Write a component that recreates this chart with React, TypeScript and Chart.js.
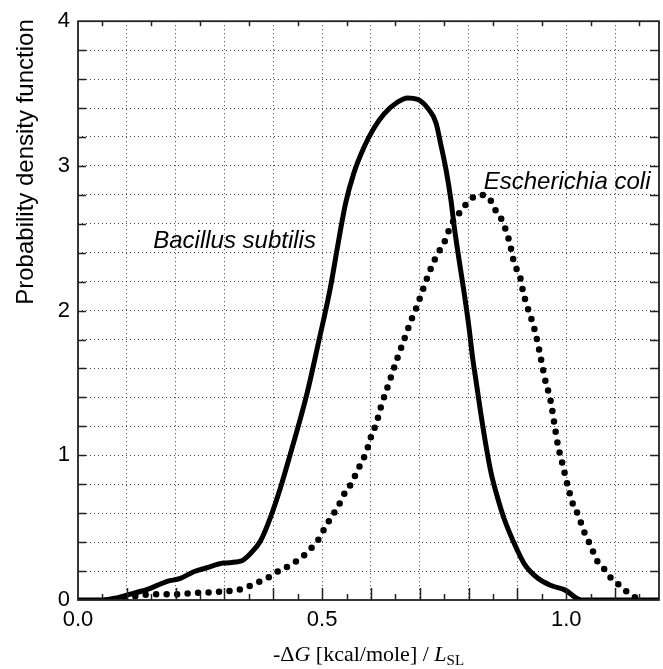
import React, { useEffect, useRef } from "react";
import { Chart, registerables } from "chart.js";

Chart.register(...registerables);

// ---- data ----
const bacillusX = [0, 0.05, 0.08, 0.1, 0.133, 0.148, 0.18, 0.21, 0.237, 0.264, 0.298, 0.333, 0.353, 0.374, 0.394, 0.415, 0.435, 0.456, 0.47, 0.49, 0.517, 0.531, 0.548, 0.565, 0.586, 0.606, 0.627, 0.654, 0.675, 0.695, 0.716, 0.733, 0.743, 0.754, 0.764, 0.771, 0.781, 0.791, 0.801, 0.808, 0.815, 0.825, 0.836, 0.846, 0.86, 0.873, 0.891, 0.914, 0.942, 0.969, 0.997, 1.031, 1.19];
const bacillusY = [0, 0, 0.015, 0.034, 0.064, 0.08, 0.126, 0.15, 0.195, 0.223, 0.255, 0.268, 0.32, 0.41, 0.57, 0.78, 1.01, 1.26, 1.44, 1.74, 2.16, 2.43, 2.74, 2.95, 3.13, 3.26, 3.36, 3.44, 3.47, 3.46, 3.4, 3.3, 3.15, 2.97, 2.76, 2.57, 2.34, 2.12, 1.88, 1.68, 1.52, 1.29, 1.06, 0.88, 0.7, 0.56, 0.41, 0.25, 0.15, 0.1, 0.07, 0, 0];

const coliX = [0.075, 0.086, 0.107, 0.127, 0.151, 0.172, 0.192, 0.213, 0.237, 0.257, 0.278, 0.298, 0.319, 0.34, 0.36, 0.38, 0.398, 0.415, 0.435, 0.452, 0.47, 0.483, 0.497, 0.507, 0.517, 0.528, 0.538, 0.548, 0.559, 0.569, 0.579, 0.589, 0.596, 0.603, 0.61, 0.62, 0.637, 0.654, 0.668, 0.682, 0.692, 0.706, 0.719, 0.736, 0.75, 0.764, 0.778, 0.791, 0.808, 0.824, 0.842, 0.852, 0.866, 0.877, 0.884, 0.894, 0.905, 0.911, 0.918, 0.928, 0.935, 0.942, 0.948, 0.959, 0.966, 0.971, 0.976, 0.983, 0.993, 1.003, 1.014, 1.024, 1.038, 1.048, 1.065, 1.079, 1.092, 1.106, 1.123, 1.14, 1.15];
const coliY = [0, 0.005, 0.02, 0.03, 0.04, 0.04, 0.04, 0.04, 0.05, 0.05, 0.055, 0.06, 0.064, 0.08, 0.11, 0.14, 0.17, 0.21, 0.24, 0.28, 0.33, 0.38, 0.44, 0.51, 0.56, 0.62, 0.68, 0.75, 0.8, 0.87, 0.94, 1.01, 1.08, 1.16, 1.21, 1.33, 1.5, 1.67, 1.8, 1.93, 2.01, 2.14, 2.26, 2.39, 2.47, 2.59, 2.66, 2.72, 2.78, 2.8, 2.78, 2.71, 2.64, 2.55, 2.47, 2.32, 2.24, 2.14, 2.05, 1.95, 1.87, 1.77, 1.67, 1.49, 1.41, 1.32, 1.21, 1.07, 0.93, 0.79, 0.66, 0.59, 0.46, 0.39, 0.26, 0.21, 0.15, 0.11, 0.06, 0.02, 0];

const seriesNames = ["Bacillus subtilis", "Escherichia coli"];

const xLabelValues = [0, 0.5, 1.0];
const xTickLabels = ["0.0", "0.5", "1.0"];
const yLabelValues = [0, 1, 2, 3, 4];
const yTickLabels = ["0", "1", "2", "3", "4"];

const X_MIN = 0;
const X_MAX = 1.19;
const X_MINOR = 0.05;
const X_LAST_TICK = 1.15;
const Y_MIN = 0;
const Y_MAX = 4;
const Y_STEP = 0.2;

const yAxisTitle = "Probability density function";
// x title pieces: "-ΔG [kcal/mole] / L_SL"
const xTitleParts = [
  { text: "-Δ", style: "normal" },
  { text: "G", style: "italic" },
  { text: " [kcal/mole] / ", style: "normal" },
  { text: "L", style: "italic" },
  { text: "SL", style: "sub" },
];

// curve labels anchored in data space (left / baseline)
const curveLabels = [
  { text: "Bacillus subtilis", x: 0.154, y: 2.436 },
  { text: "Escherichia coli", x: 0.831, y: 2.837 },
];

const SANS = "'Liberation Sans', Arial, Helvetica, sans-serif";
const SERIF = "'Liberation Serif', 'Times New Roman', serif";

const near = (a: number, b: number) => Math.abs(a - b) < 1e-6;
const isMultiple = (v: number, step: number) => near(v / step, Math.round(v / step));

const decorPlugin = {
  id: "decor",
  afterDatasetsDraw(chart: any) {
    const { ctx, chartArea: a, scales } = chart;
    const xs = scales.x;
    const ys = scales.y;
    ctx.save();
    ctx.strokeStyle = "#222";
    ctx.lineWidth = 1.5;
    ctx.lineCap = "butt";
    const nX = Math.round(X_LAST_TICK / X_MINOR);
    for (let i = 1; i <= nX; i++) {
      const v = i * X_MINOR;
      const px = Math.round(xs.getPixelForValue(v)) + 0.5;
      const major = i % 2 === 0;
      ctx.beginPath();
      ctx.moveTo(px, a.bottom);
      ctx.lineTo(px, a.bottom - (major ? 12 : 6));
      ctx.stroke();
      if (!major) {
        ctx.beginPath();
        ctx.moveTo(px, a.top);
        ctx.lineTo(px, a.top + 5);
        ctx.stroke();
      }
    }
    const nY = Math.round((Y_MAX - Y_MIN) / Y_STEP);
    for (let i = 1; i < nY; i++) {
      const v = Y_MIN + i * Y_STEP;
      const py = Math.round(ys.getPixelForValue(v)) + 0.5;
      ctx.beginPath();
      ctx.moveTo(a.left, py);
      ctx.lineTo(a.left + 8, py);
      ctx.moveTo(a.right, py);
      ctx.lineTo(a.right - 9, py);
      ctx.stroke();
    }
    ctx.lineWidth = 1.8;
    ctx.strokeRect(a.left, a.top, a.right - a.left, a.bottom - a.top);
    ctx.restore();
  },
  afterDraw(chart: any) {
    const { ctx, chartArea: a, scales } = chart;
    ctx.save();
    ctx.fillStyle = "#000";
    ctx.font = `italic 24px ${SANS}`;
    ctx.textAlign = "left";
    ctx.textBaseline = "alphabetic";
    for (const l of curveLabels) {
      ctx.fillText(l.text, scales.x.getPixelForValue(l.x), scales.y.getPixelForValue(l.y));
    }
    ctx.save();
    ctx.translate(33, 162);
    ctx.rotate(-Math.PI / 2);
    ctx.font = `24px ${SANS}`;
    ctx.textAlign = "center";
    ctx.fillText(yAxisTitle, 0, 0);
    ctx.restore();
    const fontFor = (s: string) =>
      s === "italic" ? `italic 22px ${SERIF}` : s === "sub" ? `15px ${SERIF}` : `22px ${SERIF}`;
    let total = 0;
    for (const p of xTitleParts) {
      ctx.font = fontFor(p.style);
      total += ctx.measureText(p.text).width;
    }
    let x = (a.left + a.right) / 2 - total / 2;
    const base = 661;
    ctx.textAlign = "left";
    for (const p of xTitleParts) {
      ctx.font = fontFor(p.style);
      ctx.fillText(p.text, x, p.style === "sub" ? base + 4 : base);
      x += ctx.measureText(p.text).width;
    }
    ctx.restore();
  },
};

export default function App() {
  const ref = useRef<HTMLCanvasElement | null>(null);

  useEffect(() => {
    if (!ref.current) return;
    const chart = new Chart(ref.current, {
      type: "line",
      data: {
        datasets: [
          {
            label: seriesNames[0],
            data: bacillusX.map((x, i) => ({ x, y: bacillusY[i] })),
            borderColor: "#000",
            borderWidth: 5,
            borderJoinStyle: "round",
            borderCapStyle: "round",
            pointRadius: 0,
            cubicInterpolationMode: "monotone",
            fill: false,
            clip: 0,
          },
          {
            label: seriesNames[1],
            data: coliX.map((x, i) => ({ x, y: coliY[i] })),
            borderColor: "#000",
            borderWidth: 6.5,
            borderDash: [0, 10.5],
            borderCapStyle: "round",
            borderJoinStyle: "round",
            pointRadius: 0,
            cubicInterpolationMode: "monotone",
            fill: false,
            clip: 0,
          },
        ],
      },
      options: {
        responsive: false,
        animation: false,
        devicePixelRatio: 1,
        layout: { padding: { top: 19, right: 4, left: 0, bottom: 0 } },
        plugins: { legend: { display: false }, tooltip: { enabled: false } },
        scales: {
          x: {
            type: "linear",
            min: X_MIN,
            max: X_MAX,
            afterBuildTicks: (scale: any) => {
              const n = Math.round(X_LAST_TICK / X_MINOR);
              const t = [];
              for (let i = 0; i <= n; i++) t.push({ value: Math.round(i * X_MINOR * 100) / 100 });
              scale.ticks = t;
            },
            afterFit: (scale: any) => {
              scale.height = 69;
            },
            ticks: {
              autoSkip: false,
              maxRotation: 0,
              minRotation: 0,
              padding: 7,
              color: "#000",
              font: { family: SANS, size: 22 },
              callback: (v: any) => {
                const idx = xLabelValues.findIndex((lv) => near(lv, Number(v)));
                return idx >= 0 ? xTickLabels[idx] : "";
              },
            },
            grid: {
              drawTicks: false,
              lineWidth: 1,
              color: (c: any) => {
                const v = c.tick ? c.tick.value : 0;
                return v > 0.01 && isMultiple(v, 0.1) ? "rgba(0,0,0,0.75)" : "rgba(0,0,0,0)";
              },
            },
            border: { display: false, dash: [1, 3] },
          },
          y: {
            type: "linear",
            min: Y_MIN,
            max: Y_MAX,
            afterBuildTicks: (scale: any) => {
              const n = Math.round((Y_MAX - Y_MIN) / Y_STEP);
              const t = [];
              for (let i = 0; i <= n; i++) t.push({ value: Math.round((Y_MIN + i * Y_STEP) * 10) / 10 });
              scale.ticks = t;
            },
            afterFit: (scale: any) => {
              scale.width = 78;
            },
            ticks: {
              autoSkip: false,
              padding: 8,
              color: "#000",
              font: { family: SANS, size: 22 },
              callback: (v: any) => {
                const idx = yLabelValues.findIndex((lv) => near(lv, Number(v)));
                return idx >= 0 ? yTickLabels[idx] : "";
              },
            },
            grid: {
              drawTicks: false,
              lineWidth: 1,
              color: (c: any) => {
                const v = c.tick ? c.tick.value : 0;
                return v > 0.01 && v < Y_MAX - 0.01 ? "rgba(0,0,0,0.75)" : "rgba(0,0,0,0)";
              },
            },
            border: { display: false, dash: [1, 3] },
          },
        },
      },
      plugins: [decorPlugin],
    } as any);
    return () => chart.destroy();
  }, []);

  return (
    <div style={{ position: "fixed", left: 0, top: 0, width: 663, height: 669, background: "#fff" }}>
      <canvas ref={ref} width={663} height={669} style={{ display: "block" }} />
    </div>
  );
}
